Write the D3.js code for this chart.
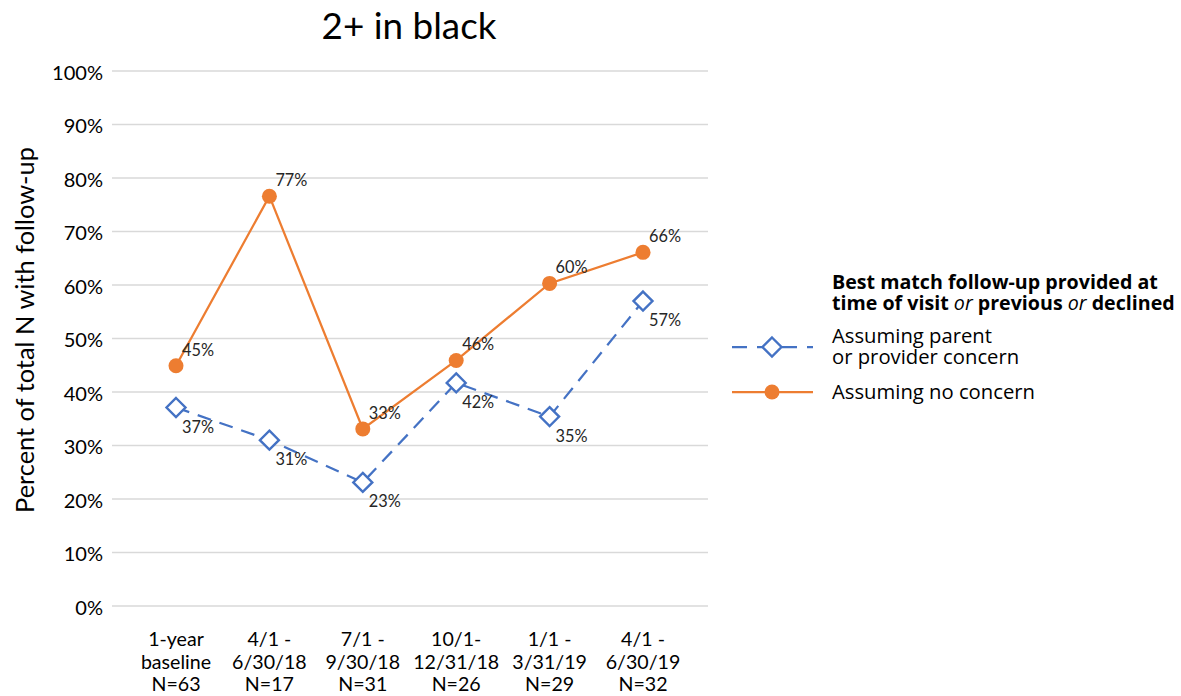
<!DOCTYPE html>
<html><head><meta charset="utf-8">
<script src="https://cdn.jsdelivr.net/npm/d3@7"></script>
<style>body{margin:0;background:#fff}</style>
</head><body>
<svg id="c" width="1181" height="696"></svg>
<script>
const categories = [["1-year","baseline","N=63"],["4/1 -","6/30/18","N=17"],["7/1 -","9/30/18","N=31"],["10/1-","12/31/18","N=26"],["1/1 -","3/31/19","N=29"],["4/1 -","6/30/19","N=32"]];
const catKeys = categories.map(c => c.join(" "));
const concernValues = [37.1, 31.0, 23.1, 41.7, 35.4, 57.0];
const noConcernValues = [44.9, 76.6, 33.1, 45.9, 60.3, 66.1];
const yTicks = [0,10,20,30,40,50,60,70,80,90,100];
const seriesNames = ["Assuming parent", "or provider concern"];
const seriesNames2 = ["Assuming no concern"];

const svg = d3.select("#c");
const font = "Lato, 'Open Sans', sans-serif";
const lfont = "'Open Sans', sans-serif";
const blue = "#4472C4", orange = "#ED7D31";

// scale font-size so that a node's text reaches a target width; returns new size
function fit(node, target) {
  const w = node.getComputedTextLength();
  const el = d3.select(node.tagName === "tspan" ? node.parentNode : node);
  const fs = parseFloat(el.attr("font-size"));
  const nfs = fs * target / w;
  el.attr("font-size", nfs);
  return nfs;
}

const x = d3.scalePoint().domain(catKeys).range([176, 643]);
const y = d3.scaleLinear().domain([0, 100]).range([606, 71]);
const gx0 = 112, gx1 = 708;

// gridlines
svg.append("g").selectAll("line").data(yTicks).join("line")
  .attr("x1", gx0).attr("x2", gx1)
  .attr("y1", d => y(d)).attr("y2", d => y(d))
  .attr("stroke", "#d9d9d9").attr("stroke-width", 1.5);

// y axis labels
const yAxis = d3.axisLeft(y).tickValues(yTicks).tickFormat(d => d + "%").tickSize(0).tickPadding(9);
const ya = svg.append("g").attr("transform", `translate(${gx0},0)`).call(yAxis);
ya.select(".domain").remove();
ya.selectAll("text").attr("font-family", font).attr("font-size", 20).attr("fill", "#000").attr("dy", "0.4em");
{
  const top = ya.selectAll("text").filter(d => d === 100).node();
  const w = top.getComputedTextLength();
  ya.selectAll("text").attr("font-size", 20 * 51 / w);
}

// x labels
const xg = svg.append("g");
const xTexts = [];
categories.forEach((c, i) => {
  const t = xg.append("text").attr("x", x(catKeys[i])).attr("y", 646)
    .attr("text-anchor", "middle").attr("font-family", font).attr("font-size", 20).attr("fill", "#000");
  c.forEach((line, j) => t.append("tspan").attr("x", x(catKeys[i])).attr("dy", j === 0 ? 0 : 22.5).text(line));
  xTexts.push(t);
});
{
  const n = xTexts[3].select("tspan:nth-child(2)").node();
  const w = n.getComputedTextLength();
  xg.selectAll("text").attr("font-size", 20 * 86 / w);
}

// title
const title = svg.append("text").attr("x", 409).attr("y", 39).attr("text-anchor", "middle")
  .attr("font-family", font).attr("font-size", 36).attr("fill", "#000").text("2+ in black");
fit(title.node(), 175);

// y title
const yt = svg.append("text").attr("transform", "translate(34,330) rotate(-90)").attr("text-anchor", "middle")
  .attr("font-family", font).attr("font-size", 24).attr("fill", "#000").text("Percent of total N with follow-up");
fit(yt.node(), 366);

const line = d3.line().x((d, i) => x(catKeys[i])).y(d => y(d));

// orange series
svg.append("path").datum(noConcernValues).attr("d", line).attr("fill", "none")
  .attr("stroke", orange).attr("stroke-width", 2.25);
// blue series
svg.append("path").datum(concernValues).attr("d", line).attr("fill", "none")
  .attr("stroke", blue).attr("stroke-width", 2.25).attr("stroke-dasharray", "14,9");

const diamond = (cx, cy, r) => `M${cx},${cy - r}L${cx + r},${cy}L${cx},${cy + r}L${cx - r},${cy}Z`;

svg.append("g").selectAll("circle").data(noConcernValues).join("circle")
  .attr("cx", (d, i) => x(catKeys[i])).attr("cy", d => y(d)).attr("r", 7.5).attr("fill", orange);
svg.append("g").selectAll("path").data(concernValues).join("path")
  .attr("d", (d, i) => diamond(x(catKeys[i]), y(d), 9.5))
  .attr("fill", "#fff").attr("stroke", blue).attr("stroke-width", 2.4);

// data labels
const ol = svg.append("g").selectAll("text").data(noConcernValues).join("text")
  .attr("x", (d, i) => x(catKeys[i]) + 6).attr("y", d => y(d) - 10)
  .attr("font-family", font).attr("font-size", 16).attr("fill", "#262626")
  .text(d => Math.round(d) + "%");
const bl = svg.append("g").selectAll("text").data(concernValues).join("text")
  .attr("x", (d, i) => x(catKeys[i]) + 6).attr("y", d => y(d) + 25)
  .attr("font-family", font).attr("font-size", 16).attr("fill", "#262626")
  .text(d => Math.round(d) + "%");
{
  const w = ol.nodes()[0].getComputedTextLength();
  const fs = 16 * 32 / w;
  ol.attr("font-size", fs); bl.attr("font-size", fs);
}

// legend
const lg = svg.append("g");
const lt1 = lg.append("text").attr("font-family", lfont).attr("font-size", 18)
  .attr("font-weight", "bold").attr("fill", "#000").attr("x", 832).attr("y", 289)
  .text("Best match follow-up provided at");
const lfs = fit(lt1.node(), 326);
const lt2 = lg.append("text").attr("font-family", lfont).attr("font-size", lfs)
  .attr("font-weight", "bold").attr("fill", "#000").attr("x", 832).attr("y", 310);
lt2.append("tspan").text("time of visit ");
lt2.append("tspan").attr("font-style", "italic").attr("font-weight", "normal").text("or");
lt2.append("tspan").text(" previous ");
lt2.append("tspan").attr("font-style", "italic").attr("font-weight", "normal").text("or");
lt2.append("tspan").text(" declined");

lg.append("line").attr("x1", 732).attr("x2", 813).attr("y1", 347).attr("y2", 347)
  .attr("stroke", blue).attr("stroke-width", 2.25).attr("stroke-dasharray", "15,10");
lg.append("path").attr("d", diamond(772, 347, 9.5)).attr("fill", "#fff").attr("stroke", blue).attr("stroke-width", 2.4);
const l1 = lg.append("text").attr("font-family", lfont).attr("font-size", 18).attr("fill", "#000");
seriesNames.forEach((s, j) => l1.append("tspan").attr("x", 832).attr("y", 343 + j * 21).text(s));
const ifs = fit(l1.select("tspan").node(), 160);

lg.append("line").attr("x1", 732).attr("x2", 813).attr("y1", 392).attr("y2", 392)
  .attr("stroke", orange).attr("stroke-width", 2.25);
lg.append("circle").attr("cx", 772).attr("cy", 392).attr("r", 7.5).attr("fill", orange);
lg.append("text").attr("font-family", lfont).attr("font-size", ifs).attr("fill", "#000")
  .attr("x", 832).attr("y", 399).text(seriesNames2[0]);
</script>
</body></html>
